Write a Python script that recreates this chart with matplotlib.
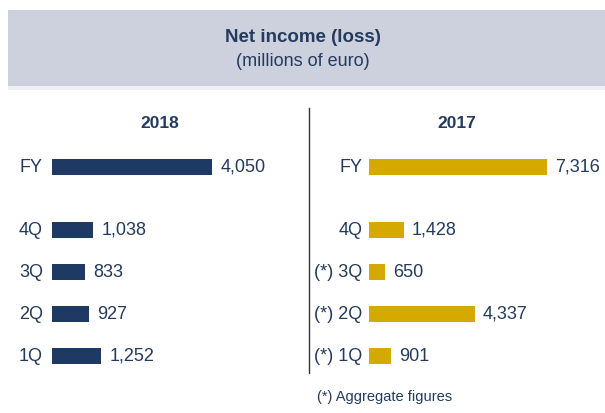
import matplotlib.pyplot as plt
from matplotlib.patches import Rectangle
from matplotlib.lines import Line2D

plt.rcParams['font.family'] = ['Liberation Sans', 'DejaVu Sans']

# data
labels_2018 = ["FY", "4Q", "3Q", "2Q", "1Q"]
values_2018 = [4050, 1038, 833, 927, 1252]
labels_2017 = ["FY", "4Q", "(*) 3Q", "(*) 2Q", "(*) 1Q"]
values_2017 = [7316, 1428, 650, 4337, 901]

navy = "#1e3a64"
gold = "#d4aa00"
txt = "#243a5e"

W, H = 605, 413
fig = plt.figure(figsize=(W / 100, H / 100), dpi=100)

def fx(px):
    return px / W

def fy(py):
    return 1 - py / H

# header band
fig.patches.append(Rectangle((fx(8), fy(86)), 1 - fx(8), (86 - 10) / H,
                             transform=fig.transFigure, facecolor="#cdd0dd",
                             edgecolor="none", zorder=0))
fig.patches.append(Rectangle((fx(8), fy(90)), 1 - fx(8), 4 / H,
                             transform=fig.transFigure, facecolor="#eff0f4",
                             edgecolor="none", zorder=0))
fig.text(0.5, fy(37), "Net income (loss)", ha="center", va="center",
         fontsize=13.5, fontweight="bold", color=txt)
fig.text(0.5, fy(62), "(millions of euro)", ha="center", va="center",
         fontsize=13, color=txt)

# divider
fig.lines.append(Line2D([fx(309), fx(309)], [fy(108), fy(373)],
                        transform=fig.transFigure, color="#333333", lw=1))

pos = [0, 1.5, 2.5, 3.5, 4.5]
unit = 42.0
top_px, bot_px = 140, 380
ylim = (4.5 + (bot_px - 356) / unit, -(167 - top_px) / unit)

def panel(x0, full_px, labels, values, color, pad):
    ax = fig.add_axes([fx(x0), fy(bot_px), fx(220), (bot_px - top_px) / H])
    ax.barh(pos, values, height=16 / unit, color=color)
    ax.set_xlim(0, values[0] * 220 / full_px)
    ax.set_ylim(*ylim)
    ax.set_yticks(pos)
    ax.set_yticklabels(labels, fontsize=13, color=txt, va="center")
    ax.tick_params(axis="y", length=0, pad=pad)
    ax.set_xticks([])
    for s in ax.spines.values():
        s.set_visible(False)
    ax.patch.set_visible(False)
    for p, v in zip(pos, values):
        ax.annotate(f"{v:,}", (v, p), xytext=(6, 0), textcoords="offset points",
                    ha="left", va="center", fontsize=13, color=txt)
    return ax

panel(52, 160, labels_2018, values_2018, navy, 6.5)
panel(369, 178, labels_2017, values_2017, gold, 4.5)

fig.text(fx(160), fy(123), "2018", ha="center", va="center",
         fontsize=12.5, fontweight="bold", color=txt)
fig.text(fx(457), fy(123), "2017", ha="center", va="center",
         fontsize=12.5, fontweight="bold", color=txt)
fig.text(fx(317), fy(397), "(*) Aggregate figures", ha="left", va="center",
         fontsize=10.5, color=txt)

fig.savefig("out.png", dpi=100)
